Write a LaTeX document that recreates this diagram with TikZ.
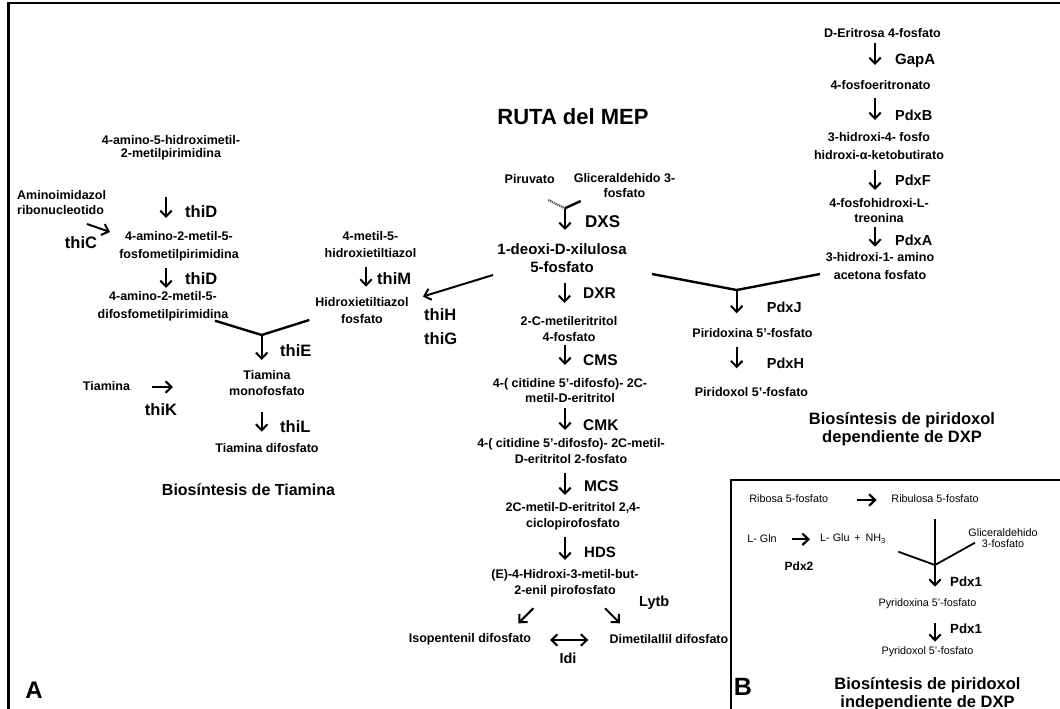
\documentclass[tikz,border=0pt]{standalone}
\usepackage{fontspec}
\setmainfont{Liberation Sans}
\usetikzlibrary{arrows.meta}
\begin{document}
\begin{tikzpicture}[x=1pt,y=-1pt,
  sm/.style={font=\fontsize{12.5}{#1}\selectfont\bfseries, align=center, inner sep=0pt},
  sm/.default=15,
  reg/.style={font=\fontsize{10.8}{#1}\selectfont, align=center, inner sep=0pt},
  reg/.default=11,
  enz/.style={font=\fontsize{#1}{#1}\selectfont\bfseries, inner sep=0pt, anchor=west},
  ttl/.style={font=\fontsize{16.5}{18.3}\selectfont\bfseries, align=center, inner sep=0pt},
  big/.style={font=\fontsize{#1}{#1}\selectfont\bfseries, inner sep=0pt},
  arr/.style={-{Straight Barb[length=6pt,width=11.5pt]}, line width=2pt},
  darr/.style={{Straight Barb[length=6pt,width=11.5pt]}-{Straight Barb[length=6pt,width=11.5pt]}, line width=2pt},
  joinline/.style={line width=2.4pt},
  outerframe/.style={line width=2.5pt}
]
\useasboundingbox (0,0) rectangle (1060,709);
\fill[white] (0,0) rectangle (1060,709);

% ---------- frames ----------
\coordinate (fA1) at (8.7,712);
\coordinate (fA2) at (8.7,2.8);
\coordinate (fA3) at (1063,2.8);
\draw[outerframe] (fA1) -- (fA2) -- (fA3);
\coordinate (fB1) at (731.3,712);
\coordinate (fB2) at (731.3,479.5);
\coordinate (fB3) at (1063,479.5);
\draw[line width=2pt] (fB1) -- (fB2) -- (fB3);

% ---------- Tiamina ----------
\node[sm=12.5] (hmp) at (171,147.8) {4-amino-5-hidroximetil-\\2-metilpirimidina};
\node[sm=15, align=left, anchor=west] (air) at (17,202.5) {Aminoimidazol\\ribonucleotido};
\coordinate (d1a) at (166,197); \coordinate (d1b) at (166,218);
\draw[arr] (d1a) -- (d1b);
\node[enz=16.5] (thiD1) at (185,212) {thiD};
\coordinate (c1a) at (87,224); \coordinate (c1b) at (110,232);
\draw[arr] (c1a) -- (c1b);
\node[big=16.5] (thiC) at (81,243) {thiC};
\node[sm=18.3] (hmpp) at (179,246) {4-amino-2-metil-5-\\fosfometilpirimidina};
\coordinate (d2a) at (166,268); \coordinate (d2b) at (166,288);
\draw[arr] (d2a) -- (d2b);
\node[enz=16.5] (thiD2) at (185,279) {thiD};
\node[sm=18.3] (hmppp) at (163,306) {4-amino-2-metil-5-\\difosfometilpirimidina};
\coordinate (yL1) at (215,320.7); \coordinate (yL0) at (261.7,335); \coordinate (yL2) at (309.3,320);
\draw[joinline] (yL1) -- (yL0) -- (yL2);
\coordinate (eA) at (261.7,334); \coordinate (eB) at (261.7,360);
\draw[arr] (eA) -- (eB);
\node[enz=16.5] (thiE) at (280,350.7) {thiE};
\node[sm=15.7] (tmp) at (267,383) {Tiamina\\monofosfato};
\node[sm] (tia) at (106.5,386) {Tiamina};
\coordinate (kA) at (152,387); \coordinate (kB) at (173,387);
\draw[arr] (kA) -- (kB);
\node[big=16.5] (thiK) at (161,410) {thiK};
\coordinate (lA) at (261.7,411.7); \coordinate (lB) at (261.7,431.7);
\draw[arr] (lA) -- (lB);
\node[enz=16.5] (thiL) at (280,427) {thiL};
\node[sm] (tdp) at (267,447.7) {Tiamina difosfato};
\node[ttl, font=\fontsize{16}{18}\selectfont\bfseries] (titT) at (248.5,490) {Biosíntesis de Tiamina};

% ---------- tiazol ----------
\node[sm=17.7] (het) at (370.5,244.5) {4-metil-5-\\hidroxietiltiazol};
\coordinate (mA) at (366,266.7); \coordinate (mB) at (366,286.7);
\draw[arr] (mA) -- (mB);
\node[enz=16.5] (thiM) at (377,278.3) {thiM};
\node[sm=17.6] (hetp) at (362,310.5) {Hidroxietiltiazol\\fosfato};
\coordinate (hA) at (493,275); \coordinate (hB) at (423,296.5);
\draw[arr] (hA) -- (hB);
\node[enz=16.5] (thiH) at (424,315) {thiH};
\node[enz=16.5] (thiG) at (424,338.3) {thiG};

% ---------- MEP ----------
\node[big=22] (titM) at (573,116.7) {RUTA del MEP};
\node[sm] (pir) at (529.7,179.3) {Piruvato};
\node[sm=15.6] (gap) at (624.5,185.5) {Gliceraldehido 3-\\fosfato};
\coordinate (jP) at (548.3,200); \coordinate (j0) at (565,208.3); \coordinate (jG) at (580.7,201);
\draw[line width=2pt, black!70, dash pattern=on 1.2pt off 0.8pt] (jP) -- (j0);
\draw[joinline] (jG) -- (j0);
\coordinate (sA) at (565,209); \coordinate (sB) at (565,230);
\draw[arr] (sA) -- (sB);
\node[enz=17] (DXS) at (585,221.7) {DXS};
\node[font=\fontsize{15}{17.4}\selectfont\bfseries, align=center, inner sep=0pt] (dxp) at (562,258) {1-deoxi-D-xilulosa\\5-fosfato};
\coordinate (rA) at (564.5,283); \coordinate (rB) at (564.5,303);
\draw[arr] (rA) -- (rB);
\node[enz=15.5] (DXR) at (583,293) {DXR};
\node[sm=16.7] (mep) at (569,329) {2-C-metileritritol\\4-fosfato};
\coordinate (cA) at (565,345); \coordinate (cB) at (565,365);
\draw[arr] (cA) -- (cB);
\node[enz=15.5] (CMS) at (583,360) {CMS};
\node[sm=15] (cdpme) at (570,390.8) {4-( citidine 5’-difosfo)- 2C-\\metil-D-eritritol};
\coordinate (kkA) at (565,408.3); \coordinate (kkB) at (565,430);
\draw[arr] (kkA) -- (kkB);
\node[enz=15.5] (CMK) at (583,425) {CMK};
\node[sm=16.7] (cdpmep) at (571,451) {4-( citidine 5’-difosfo)- 2C-metil-\\D-eritritol 2-fosfato};
\coordinate (mcA) at (565,473.3); \coordinate (mcB) at (565,495);
\draw[arr] (mcA) -- (mcB);
\node[enz=15.5] (MCS) at (584,486) {MCS};
\node[sm=15.7] (mecpp) at (573,516) {2C-metil-D-eritritol 2,4-\\ciclopirofosfato};
\coordinate (hdA) at (565,536.7); \coordinate (hdB) at (565,560);
\draw[arr] (hdA) -- (hdB);
\node[enz=15] (HDS) at (584,552.7) {HDS};
\node[sm=16.7] (hmbpp) at (565,583.3) {(E)-4-Hidroxi-3-metil-but-\\2-enil pirofosfato};
\node[enz=14.5] (Lytb) at (639,602.7) {Lytb};
\coordinate (iA) at (533.3,608.3); \coordinate (iB) at (518.3,623.3);
\draw[arr] (iA) -- (iB);
\coordinate (dA) at (605,608.3); \coordinate (dB) at (620,623.3);
\draw[arr] (dA) -- (dB);
\node[sm] (ipp) at (470,639) {Isopentenil difosfato};
\node[sm, anchor=west] (dmapp) at (609.3,639) {Dimetilallil difosfato};
\coordinate (xA) at (550,640); \coordinate (xB) at (588.3,640);
\draw[darr] (xA) -- (xB);
\node[big=14.5] (Idi) at (568,658.3) {Idi};
\node[big=24] (labA) at (34,690.7) {A};

% ---------- piridoxol dependiente de DXP ----------
\node[sm] (e4p) at (882.5,33.3) {D-Eritrosa 4-fosfato};
\coordinate (gA) at (875,43.3); \coordinate (gB) at (875,65);
\draw[arr] (gA) -- (gB);
\node[enz=15] (GapA) at (895,61) {GapA};
\node[sm] (fe) at (880.5,85) {4-fosfoeritronato};
\coordinate (bA) at (875,98.3); \coordinate (bB) at (875,120);
\draw[arr] (bA) -- (bB);
\node[enz=14.5] (PdxB) at (895,115) {PdxB};
\node[sm=18.3] (hkb) at (879,146) {3-hidroxi-4- fosfo\\hidroxi-α-ketobutirato};
\coordinate (fA) at (875,170); \coordinate (fB) at (875,190);
\draw[arr] (fA) -- (fB);
\node[enz=14.5] (PdxF) at (895,180) {PdxF};
\node[sm=15] (pht) at (879,210.8) {4-fosfohidroxi-L-\\treonina};
\coordinate (aA) at (875,226.7); \coordinate (aB) at (875,246.7);
\draw[arr] (aA) -- (aB);
\node[enz=14.5] (PdxA) at (895,240.7) {PdxA};
\node[sm=18.3] (aap) at (880,265.8) {3-hidroxi-1- amino\\acetona fosfato};
\coordinate (yR1) at (652,274); \coordinate (yR0) at (736.7,290); \coordinate (yR2) at (820,274);
\draw[joinline] (yR1) -- (yR0) -- (yR2);
\coordinate (jA) at (736.7,289.5); \coordinate (jB) at (736.7,313.3);
\draw[arr] (jA) -- (jB);
\node[enz=14.5] (PdxJ) at (766.7,307) {PdxJ};
\node[sm] (pnp) at (752.5,333.5) {Piridoxina 5’-fosfato};
\coordinate (pA) at (736.7,346.7); \coordinate (pB) at (736.7,368.3);
\draw[arr] (pA) -- (pB);
\node[enz=14.5] (PdxH) at (766.7,363.3) {PdxH};
\node[sm] (plp) at (751.5,391.7) {Piridoxol 5’-fosfato};
\node[ttl] (titD) at (902,429) {Biosíntesis de piridoxol\\dependiente de DXP};

% ---------- piridoxol independiente de DXP ----------
\node[reg] (r5p) at (788.7,498.3) {Ribosa 5-fosfato};
\coordinate (rrA) at (856.7,500); \coordinate (rrB) at (876.7,500);
\draw[arr, line width=2.2pt] (rrA) -- (rrB);
\node[reg] (ru5p) at (935,498.3) {Ribulosa 5-fosfato};
\coordinate (vA) at (935,519.3); \coordinate (vB) at (935,586.7);
\draw[arr] (vA) -- (vB);
\node[reg] (gln) at (762,538.3) {L- Gln};
\coordinate (qA) at (791.7,539.3); \coordinate (qB) at (810,539.3);
\draw[arr, line width=2.2pt] (qA) -- (qB);
\node[reg, anchor=west] (glu) at (820,538.3) {L- Glu \,+\, NH\textsubscript{3}};
\node[big=12] (Pdx2) at (799,566.7) {Pdx2};
\node[reg=10.5] (g3p) at (1003,538.3) {Gliceraldehido\\3-fosfato};
\coordinate (bL) at (898.3,551.7); \coordinate (b0) at (935,565); \coordinate (bR) at (975,542.7);
\draw[line width=1.8pt] (bL) -- (b0) -- (bR);
\node[enz=13.3] (Pdx1a) at (950,581.7) {Pdx1};
\node[reg] (pyx) at (927.5,603.3) {Pyridoxina 5’-fosfato};
\coordinate (wA) at (935,623.3); \coordinate (wB) at (935,641.7);
\draw[arr] (wA) -- (wB);
\node[enz=13.3] (Pdx1b) at (950,629) {Pdx1};
\node[reg] (pyl) at (927.5,651.7) {Pyridoxol 5’-fosfato};
\node[big=25] (labB) at (743,687) {B};
\node[ttl] (titI) at (927.5,694) {Biosíntesis de piridoxol\\independiente de DXP};
\end{tikzpicture}
\end{document}
